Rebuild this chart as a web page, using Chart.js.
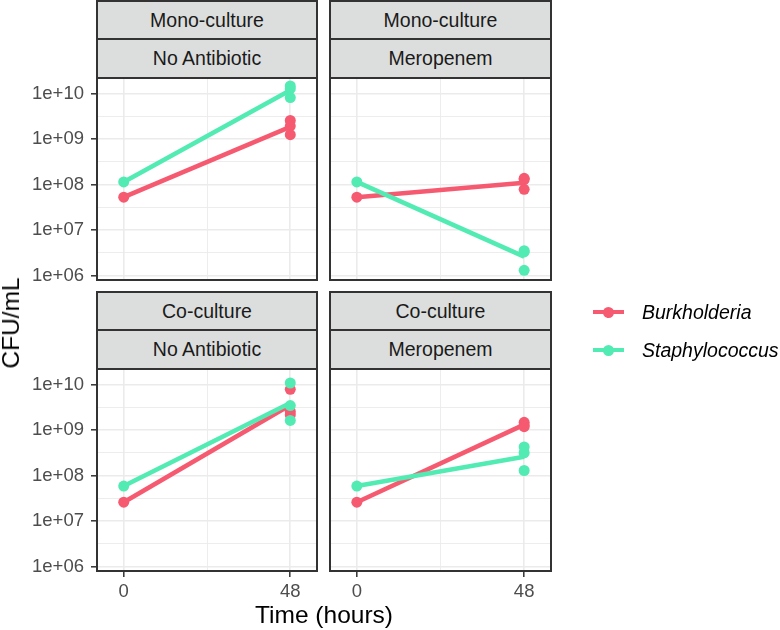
<!DOCTYPE html>
<html>
<head>
<meta charset="utf-8">
<script src="https://cdn.jsdelivr.net/npm/chart.js@4.4.1/dist/chart.umd.min.js"></script>
<style>
  body { margin: 0; background: #fff; font-family: "Liberation Sans", Arial, sans-serif; }
  #wrap { position: relative; width: 780px; height: 630px; overflow: hidden; }
  canvas { position: absolute; left: 0; top: 0; }
  .strip { position: absolute; box-sizing: border-box; background: #DCDEDD; border: 2px solid #333;
           color: #1A1A1A; font-size: 19.5px; text-align: center; }
  .title { position: absolute; font-size: 24.5px; color: #000; white-space: nowrap; transform: translate(-50%, -50%); }
  .key-line { position: absolute; height: 4px; width: 31px; }
  .key-dot { position: absolute; width: 11px; height: 11px; border-radius: 50%; }
  .key-text { position: absolute; font-size: 19.5px; font-style: italic; color: #000; transform: translateY(-50%); }
</style>
</head>
<body>
<div id="wrap">
  <canvas id="p1" width="780" height="630"></canvas>
  <canvas id="p2" width="780" height="630"></canvas>
  <canvas id="p3" width="780" height="630"></canvas>
  <canvas id="p4" width="780" height="630"></canvas>
  <div class="title" style="left:11px;top:323px;transform:translate(-50%,-50%) rotate(-90deg)">CFU/mL</div>
  <div class="title" style="left:324px;top:615px">Time (hours)</div>
</div>
<script>
// facets
const cultures = ['Mono-culture', 'Co-culture'];
const treatments = ['No Antibiotic', 'Meropenem'];
const species = ['Burkholderia', 'Staphylococcus'];

// axes
const xTickValues = [0, 48];
const xTickLabels = ['0', '48'];
const yTickValues = [1e6, 1e7, 1e8, 1e9, 1e10];
const yTickLabels = ['1e+06', '1e+07', '1e+08', '1e+09', '1e+10'];

// starting inoculum (t = 0)
const burkStartMono = 5.3e7;
const staphStartMono = 1.15e8;
const burkStartCo = 2.6e7;
const staphStartCo = 5.9e7;

// replicates at 48 h
const burkMonoNone48 = [2.6e9, 1.95e9, 1.26e9];
const staphMonoNone48 = [1.5e10, 1.3e10, 8.3e9];
const burkMonoMero48 = [1.38e8, 1.3e8, 7.9e7];
const staphMonoMero48 = [3.5e6, 3.3e6, 1.3e6];
const burkCoNone48 = [8e9, 2.6e9, 2.2e9];
const staphCoNone48 = [1.1e10, 3.5e9, 1.65e9];
const burkCoMero48 = [1.5e9, 1.3e9, 1.2e9];
const staphCoMero48 = [4.3e8, 3.2e8, 1.3e8];

// mean lines (0 h, 48 h)
const burkMonoNoneLine = [5.3e7, 1.87e9];
const staphMonoNoneLine = [1.15e8, 1.2e10];
const burkMonoMeroLine = [5.3e7, 1.1e8];
const staphMonoMeroLine = [1.15e8, 2.6e6];
const burkCoNoneLine = [2.6e7, 3.6e9];
const staphCoNoneLine = [5.9e7, 4.0e9];
const burkCoMeroLine = [2.6e7, 1.33e9];
const staphCoMeroLine = [5.9e7, 2.6e8];

const RED = '#F65A70';
const GREEN = '#52EBB3';
const FONT = '"Liberation Sans", Arial, sans-serif';

const xGrid = [0, 24, 48];
const yGrid = [];
yTickValues.forEach((v, i) => {
  yGrid.push(v);
  if (i < yTickValues.length - 1) yGrid.push(Math.sqrt(v * yTickValues[i + 1]));
});

// panel border like ggplot theme_bw
const frame = {
  id: 'frame',
  afterDraw(chart) {
    const a = chart.chartArea, c = chart.ctx;
    c.save();
    c.strokeStyle = '#333';
    c.lineWidth = 2;
    c.strokeRect(a.left, a.top, a.right - a.left, a.bottom - a.top);
    c.restore();
  }
};

function pts(t0, end) {
  return [{x: 0, y: t0}].concat(end.map(v => ({x: 48, y: v})));
}
function line(vals) {
  return [{x: 0, y: vals[0]}, {x: 48, y: vals[1]}];
}

function makePanel(id, area, showX, showY, burk0, burk48, burkLine, staph0, staph48, staphLine) {
  const yW = showY ? area.l : 0;
  const xH = showX ? 30 : 0;
  return new Chart(document.getElementById(id), {
    type: 'scatter',
    data: {
      datasets: [
        {data: line(staphLine), showLine: true, borderColor: GREEN, borderWidth: 4.5, pointRadius: 0, borderCapStyle: 'butt', order: 1},
        {data: pts(staph0, staph48), backgroundColor: GREEN, borderWidth: 0, pointRadius: 5.5, order: 2},
        {data: line(burkLine), showLine: true, borderColor: RED, borderWidth: 4.5, pointRadius: 0, borderCapStyle: 'butt', order: 3},
        {data: pts(burk0, burk48), backgroundColor: RED, borderWidth: 0, pointRadius: 5.5, order: 4}
      ]
    },
    options: {
      responsive: false,
      animation: false,
      events: [],
      layout: {
        autoPadding: false,
        padding: {left: area.l - yW, top: area.t, right: 780 - area.r, bottom: 630 - area.b - xH}
      },
      plugins: {legend: {display: false}, tooltip: {enabled: false}},
      scales: {
        x: {
          type: 'linear', min: -7.7, max: 55.7,
          afterBuildTicks: s => { s.ticks = xGrid.map(v => ({value: v})); },
          afterFit: s => { s.height = xH; },
          border: {display: false},
          grid: {
            color: '#EBEBEB',
            lineWidth: c => xTickValues.includes(c.tick.value) ? 1.6 : 0.9,
            drawTicks: showX, tickLength: 6, tickWidth: 1.5,
            tickColor: c => xTickValues.includes(c.tick.value) ? '#333' : 'rgba(0,0,0,0)'
          },
          ticks: {
            display: showX, autoSkip: false, maxRotation: 0, padding: 4,
            color: '#4D4D4D', font: {family: FONT, size: 18.5},
            callback: v => { const i = xTickValues.indexOf(v); return i >= 0 ? xTickLabels[i] : ''; }
          }
        },
        y: {
          type: 'logarithmic', min: Math.pow(10, 5.9), max: Math.pow(10, 10.35),
          afterBuildTicks: s => { s.ticks = yGrid.map(v => ({value: v})); },
          afterFit: s => { s.width = yW; },
          border: {display: false},
          grid: {
            color: '#EBEBEB',
            lineWidth: c => yTickValues.includes(c.tick.value) ? 1.6 : 0.9,
            drawTicks: showY, tickLength: 6, tickWidth: 1.5,
            tickColor: c => yTickValues.includes(c.tick.value) ? '#333' : 'rgba(0,0,0,0)'
          },
          ticks: {
            display: showY, autoSkip: false, padding: 7,
            color: '#4D4D4D', font: {family: FONT, size: 18.5},
            callback: v => { const k = yTickValues.indexOf(v); return k >= 0 ? yTickLabels[k] : ''; }
          }
        }
      }
    },
    plugins: [frame]
  });
}

const areas = [
  {l: 97, r: 317, t: 78, b: 280},
  {l: 330, r: 551, t: 78, b: 280},
  {l: 97, r: 317, t: 369, b: 571},
  {l: 330, r: 551, t: 369, b: 571}
];

makePanel('p1', areas[0], false, true, burkStartMono, burkMonoNone48, burkMonoNoneLine, staphStartMono, staphMonoNone48, staphMonoNoneLine);
makePanel('p2', areas[1], false, false, burkStartMono, burkMonoMero48, burkMonoMeroLine, staphStartMono, staphMonoMero48, staphMonoMeroLine);
makePanel('p3', areas[2], true, true, burkStartCo, burkCoNone48, burkCoNoneLine, staphStartCo, staphCoNone48, staphCoNoneLine);
makePanel('p4', areas[3], true, false, burkStartCo, burkCoMero48, burkCoMeroLine, staphStartCo, staphCoMero48, staphCoMeroLine);

// strips above each panel
const wrap = document.getElementById('wrap');
function strip(text, left, top, width, height) {
  const d = document.createElement('div');
  d.className = 'strip';
  d.textContent = text;
  d.style.cssText = `left:${left}px;top:${top}px;width:${width}px;height:${height}px;line-height:${height - 4}px`;
  wrap.appendChild(d);
}
areas.forEach((a, i) => {
  const row = Math.floor(i / 2), col = i % 2;
  const top = a.t - 78;
  strip(cultures[row], a.l - 1, top, a.r - a.l + 2, 40);
  strip(treatments[col], a.l - 1, top + 38, a.r - a.l + 2, 41);
});

// legend
const legendY = [312, 350];
species.forEach((name, i) => {
  const col = i === 0 ? RED : GREEN;
  const ln = document.createElement('div');
  ln.className = 'key-line';
  ln.style.cssText = `left:593px;top:${legendY[i] - 2}px;background:${col}`;
  const dot = document.createElement('div');
  dot.className = 'key-dot';
  dot.style.cssText = `left:603px;top:${legendY[i] - 5.5}px;background:${col}`;
  const tx = document.createElement('div');
  tx.className = 'key-text';
  tx.textContent = name;
  tx.style.cssText = `left:642px;top:${legendY[i]}px`;
  wrap.appendChild(ln); wrap.appendChild(dot); wrap.appendChild(tx);
});
</script>
</body>
</html>
